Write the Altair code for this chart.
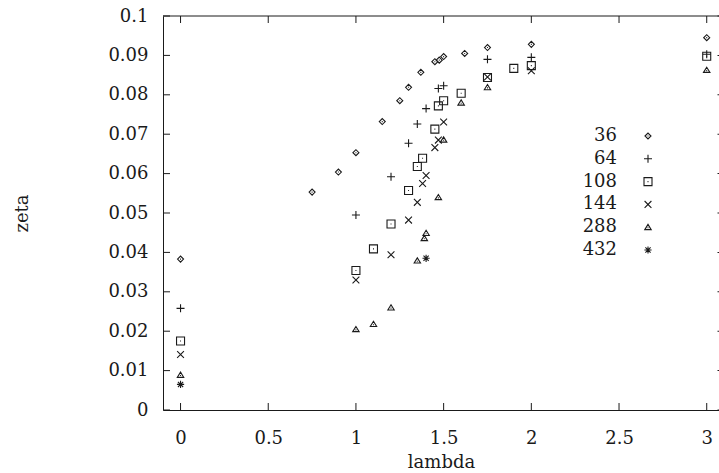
import altair as alt
import pandas as pd

# ---- data -------------------------------------------------------------
series = ["36", "64", "108", "144", "288", "432"]

lam_36 = [0.0, 0.75, 0.9, 1.0, 1.15, 1.25, 1.3, 1.37, 1.45, 1.475, 1.5, 1.62, 1.75, 2.0, 3.0]
zeta_36 = [0.0383, 0.0553, 0.0604, 0.0653, 0.0732, 0.0785, 0.0819, 0.0857, 0.0884, 0.0888,
           0.0897, 0.0905, 0.0920, 0.0928, 0.0945]

lam_64 = [0.0, 1.0, 1.2, 1.3, 1.35, 1.4, 1.47, 1.5, 1.75, 2.0, 3.0]
zeta_64 = [0.0258, 0.0495, 0.0592, 0.0677, 0.0726, 0.0765, 0.0816, 0.0823, 0.0890, 0.0895, 0.0903]

lam_108 = [0.0, 1.0, 1.1, 1.2, 1.3, 1.35, 1.38, 1.45, 1.47, 1.5, 1.6, 1.75, 1.9, 2.0, 3.0]
zeta_108 = [0.0175, 0.0354, 0.0409, 0.0472, 0.0557, 0.0618, 0.0639, 0.0713, 0.0772, 0.0785,
            0.0804, 0.0844, 0.0867, 0.0874, 0.0898]

lam_144 = [0.0, 1.0, 1.2, 1.3, 1.35, 1.38, 1.4, 1.45, 1.47, 1.5, 1.75, 2.0]
zeta_144 = [0.0141, 0.0330, 0.0394, 0.0482, 0.0527, 0.0575, 0.0595, 0.0666, 0.0685, 0.0731,
            0.0845, 0.0861]

lam_288 = [0.0, 1.0, 1.1, 1.2, 1.35, 1.39, 1.4, 1.47, 1.5, 1.6, 1.75, 3.0]
zeta_288 = [0.0089, 0.0205, 0.0218, 0.0260, 0.0379, 0.0436, 0.0449, 0.0540, 0.0686, 0.0780,
            0.0819, 0.0863]

lam_432 = [0.0, 1.4]
zeta_432 = [0.0065, 0.0385]

x_ticks = [0, 0.5, 1, 1.5, 2, 2.5, 3]
y_ticks = [0, 0.01, 0.02, 0.03, 0.04, 0.05, 0.06, 0.07, 0.08, 0.09, 0.1]

rows = []
for name, lams, zetas in zip(
    series,
    [lam_36, lam_64, lam_108, lam_144, lam_288, lam_432],
    [zeta_36, zeta_64, zeta_108, zeta_144, zeta_288, zeta_432],
):
    for lam, z in zip(lams, zetas):
        rows.append({"series": name, "lambda": lam, "zeta": z})
df = pd.DataFrame(rows)

# ---- styling ------------------------------------------------------------
FONT = "DejaVu Serif"
INK = "#1a1a1a"
W, H = 556, 394
TICK = 7

# gnuplot-like point glyphs as unit-box SVG paths
SHAPES = {
    "36": "M-0.75,0L0,-0.75L0.75,0L0,0.75ZM-0.12,0L0.12,0",
    "64": "M-1,0L1,0M0,-1L0,1",
    "108": "M-1,-1L1,-1L1,1L-1,1ZM-0.12,0L0.12,0",
    "144": "M-0.85,-0.85L0.85,0.85M-0.85,0.85L0.85,-0.85",
    "288": "M-0.8,0.6L0,-0.7L0.8,0.6ZM-0.12,0.15L0.12,0.15",
    "432": "M-0.9,0L0.9,0M0,-0.9L0,0.9M-0.65,-0.65L0.65,0.65M-0.65,0.65L0.65,-0.65",
}
shape_scale = alt.Scale(domain=series, range=[SHAPES[s] for s in series])

x_scale = alt.Scale(domain=[-0.1, 3.07], nice=False, zero=False)
y_scale = alt.Scale(domain=[0, 0.1], nice=False, zero=False)

# ---- data points --------------------------------------------------------
points = alt.Chart(df).mark_point(
    filled=False, size=64, stroke=INK, strokeWidth=1.1, opacity=1
).encode(
    x=alt.X(
        "lambda:Q",
        scale=x_scale,
        axis=alt.Axis(
            values=x_ticks, format="~g", title="lambda", labelPadding=19,
            labelFlush=False, labelOverlap=False,
            titleY=57, titleBaseline="alphabetic",
        ),
    ),
    y=alt.Y(
        "zeta:Q",
        scale=y_scale,
        axis=alt.Axis(
            values=y_ticks, format="~g", title="zeta", labelPadding=15,
            labelOverlap=False, labelFlush=False,
            titleX=-136, titleY=H / 2, titleAngle=270,
            titleBaseline="alphabetic", titleAlign="center",
        ),
    ),
    shape=alt.Shape("series:N", scale=shape_scale, legend=None),
)

# ---- inward tick marks on all four sides --------------------------------
xt = pd.DataFrame({"t": x_ticks})
yt = pd.DataFrame({"t": y_ticks})

bottom_ticks = alt.Chart(xt).mark_tick(
    orient="vertical", size=TICK, thickness=1, color=INK, opacity=1
).encode(x=alt.X("t:Q", scale=x_scale, axis=None), y=alt.value(H - TICK / 2))

top_ticks = alt.Chart(xt).mark_tick(
    orient="vertical", size=TICK, thickness=1, color=INK, opacity=1
).encode(x=alt.X("t:Q", scale=x_scale, axis=None), y=alt.value(TICK / 2))

left_ticks = alt.Chart(yt).mark_tick(
    orient="horizontal", size=TICK, thickness=1, color=INK, opacity=1
).encode(y=alt.Y("t:Q", scale=y_scale, axis=None), x=alt.value(TICK / 2))

right_ticks = alt.Chart(yt).mark_tick(
    orient="horizontal", size=TICK, thickness=1, color=INK, opacity=1
).encode(y=alt.Y("t:Q", scale=y_scale, axis=None), x=alt.value(W + 2))

# top border of the frame
top_border = alt.Chart(pd.DataFrame({"edge": ["top"]})).mark_rule(
    color=INK, strokeWidth=1
).encode(x=alt.value(0), x2=alt.value(W), y=alt.value(0))

# ---- key: label on the left, glyph on the right -------------------------
legend_df = pd.DataFrame({"series": series})
leg_y = alt.Y(
    "series:N",
    scale=alt.Scale(type="point", domain=series, range=[120, 234], padding=0),
    axis=None,
)
legend_text = alt.Chart(legend_df).mark_text(
    align="right", baseline="middle", font=FONT, fontSize=18, color=INK
).encode(x=alt.value(454), y=leg_y, text="series:N")

legend_glyphs = alt.Chart(legend_df).mark_point(
    filled=False, size=64, stroke=INK, strokeWidth=1.1, opacity=1
).encode(
    x=alt.value(485),
    y=leg_y,
    shape=alt.Shape("series:N", scale=shape_scale, legend=None),
)

chart = (
    alt.layer(
        points, bottom_ticks, top_ticks, left_ticks, right_ticks, top_border,
        legend_text, legend_glyphs,
    )
    .resolve_scale(y="independent")
    .resolve_axis(x="independent", y="independent")
    .properties(
        width=W,
        height=H,
        padding={"left": 163, "top": 16, "right": 0, "bottom": 63},
        autosize=alt.AutoSizeParams(type="none"),
        background="white",
    )
    .configure_view(stroke=None)
    .configure_axis(
        grid=False,
        ticks=False,
        domainColor=INK,
        domainWidth=1,
        labelFont=FONT,
        labelFontSize=18,
        labelColor=INK,
        titleFont=FONT,
        titleFontSize=18,
        titleFontWeight="normal",
        titleColor=INK,
    )
)

chart.save("out.html", embed_options={"renderer": "svg", "actions": False})
